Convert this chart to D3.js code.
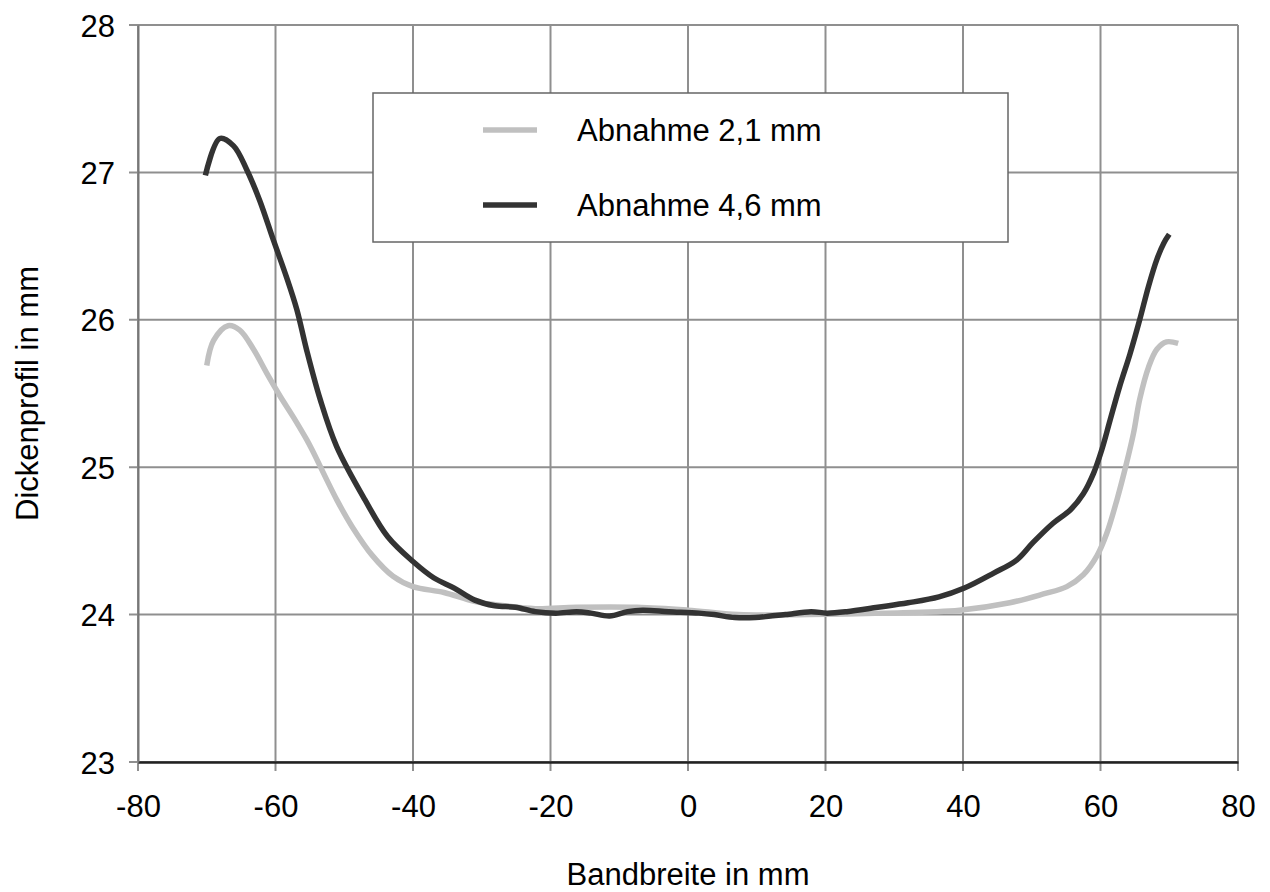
<!DOCTYPE html>
<html>
<head>
<meta charset="utf-8">
<script src="https://cdn.jsdelivr.net/npm/d3@7"></script>
<style>
    body { margin: 0; background: #fff; }
    text { font-family: "Liberation Sans", Arial, sans-serif; fill: #000; }
</style>
</head>
<body>
<div id="chart"></div>
<script>
    // Abnahme 2,1 mm (light)
    let xLight = [-70.0, -69.0, -66.9, -65.2, -63.2, -61.3, -59.3, -57.4, -55.5, -54.7, -51.1, -48.9, -45.9, -42.9, -40.0, -35.5, -31.1, -26.7, -22.2, -16.2, -7.4, 0, 7.3, 17.6, 28.6, 39.5, 46.8, 51.7, 55.1, 57.5, 59.5, 60.9, 62.4, 63.8, 64.8, 65.7, 67.0, 68.2, 69.6, 71.3];
    let yLight = [25.69, 25.86, 25.96, 25.93, 25.80, 25.64, 25.48, 25.34, 25.19, 25.12, 24.78, 24.60, 24.40, 24.26, 24.19, 24.15, 24.09, 24.06, 24.04, 24.05, 24.05, 24.03, 24.00, 24.00, 24.01, 24.03, 24.08, 24.14, 24.19, 24.27, 24.40, 24.55, 24.78, 25.03, 25.23, 25.46, 25.68, 25.80, 25.85, 25.84];

    // Abnahme 4,6 mm (dark)
    let xDark = [-70.2, -68.1, -66.1, -64.2, -62.3, -60.3, -58.4, -56.9, -55.5, -53.5, -51.1, -47.0, -43.7, -40.0, -37.0, -34.0, -31.1, -28.1, -25.1, -22.2, -19.2, -16.2, -14.1, -11.4, -8.8, -6.6, -2.8, 1.6, 3.8, 6.8, 9.8, 12.0, 14.2, 17.9, 20.2, 23.1, 27.6, 32.0, 36.5, 40.2, 44.4, 47.8, 50.2, 53.1, 55.6, 57.5, 59.0, 60.2, 61.4, 62.8, 64.3, 65.7, 67.0, 68.2, 69.2, 70.0];
    let yDark = [26.98, 27.23, 27.18, 27.02, 26.81, 26.54, 26.29, 26.07, 25.80, 25.46, 25.14, 24.78, 24.53, 24.36, 24.25, 24.18, 24.10, 24.06, 24.05, 24.02, 24.01, 24.02, 24.01, 23.99, 24.02, 24.03, 24.02, 24.01, 24.00, 23.98, 23.98, 23.99, 24.00, 24.02, 24.01, 24.02, 24.05, 24.08, 24.12, 24.18, 24.28, 24.37, 24.49, 24.62, 24.71, 24.82, 24.96, 25.12, 25.32, 25.55, 25.77, 26.00, 26.23, 26.41, 26.52, 26.58];

    let xTicks = [-80, -60, -40, -20, 0, 20, 40, 60, 80];
    let yTicks = [23, 24, 25, 26, 27, 28];
    let seriesNames = ["Abnahme 2,1 mm", "Abnahme 4,6 mm"];
    let seriesColors = ["#c0c0c0", "#333333"];

    let graph = {
        margin: {top: 25, right: 32, bottom: 130, left: 138},
        width: 1270,
        height: 892
    };
    let w = graph.width - graph.margin.left - graph.margin.right;
    let h = graph.height - graph.margin.top - graph.margin.bottom;
    let fontSize = 31;

    let svg = d3.select("#chart").append("svg")
        .attr("width", graph.width).attr("height", graph.height);
    let g = svg.append("g")
        .attr("transform", "translate(" + graph.margin.left + "," + graph.margin.top + ")");

    let x = d3.scaleLinear().domain([-80, 80]).range([0, w]);
    let y = d3.scaleLinear().domain([23, 28]).range([h, 0]);

    // grid
    g.append("g").selectAll("line").data(xTicks).enter().append("line")
        .attr("x1", function (d) { return x(d); }).attr("x2", function (d) { return x(d); })
        .attr("y1", 0).attr("y2", h + 9)
        .attr("stroke", "#8f8f8f").attr("stroke-width", 2);
    g.append("g").selectAll("line").data(yTicks).enter().append("line")
        .attr("x1", -9).attr("x2", w)
        .attr("y1", function (d) { return y(d); }).attr("y2", function (d) { return y(d); })
        .attr("stroke", "#8f8f8f").attr("stroke-width", 2);

    // axes
    let xAxis = g.append("g").attr("transform", "translate(0," + h + ")")
        .call(d3.axisBottom(x).tickValues(xTicks).tickSize(0).tickPadding(33).tickFormat(function (d) { return String(d); }));
    xAxis.select(".domain").attr("stroke", "#222").attr("stroke-width", 2.5);
    let yAxis = g.append("g")
        .call(d3.axisLeft(y).tickValues(yTicks).tickSize(0).tickPadding(23).tickFormat(function (d) { return String(d); }));
    yAxis.select(".domain").attr("stroke", "#777").attr("stroke-width", 2);
    svg.selectAll(".tick text").attr("font-size", fontSize).attr("font-family", "Liberation Sans, Arial, sans-serif").attr("fill", "#000");
    yAxis.selectAll(".tick text").attr("dy", "0.36em");

    // lines
    let line = d3.line().curve(d3.curveCatmullRom)
        .x(function (d) { return x(d[0]); })
        .y(function (d) { return y(d[1]); });

    let series = [d3.zip(xLight, yLight), d3.zip(xDark, yDark)];
    g.selectAll(".line").data(series).enter().append("path")
        .attr("class", "line")
        .attr("d", line)
        .attr("fill", "none")
        .attr("stroke", function (d, i) { return seriesColors[i]; })
        .attr("stroke-width", 5.5)
        .attr("stroke-linejoin", "round");

    // legend
    let legend = svg.append("g").attr("transform", "translate(373,93)");
    legend.append("rect").attr("width", 635).attr("height", 149)
        .attr("fill", "#fff").attr("stroke", "#666").attr("stroke-width", 1.5);
    seriesNames.forEach(function (name, i) {
        let ly = 37 + i * 75;
        legend.append("line").attr("x1", 110).attr("x2", 164).attr("y1", ly).attr("y2", ly)
            .attr("stroke", seriesColors[i]).attr("stroke-width", 5.5);
        legend.append("text").attr("x", 204).attr("y", ly).attr("dy", "0.36em")
            .attr("font-size", fontSize)
            .text(name);
    });

    // axis titles
    svg.append("text").attr("x", graph.margin.left + w / 2).attr("y", 885)
        .attr("text-anchor", "middle").attr("font-size", fontSize).text("Bandbreite in mm");
    svg.append("text").attr("transform", "translate(38," + (graph.margin.top + h / 2) + ") rotate(-90)")
        .attr("text-anchor", "middle").attr("font-size", fontSize).text("Dickenprofil in mm");
</script>
</body>
</html>
